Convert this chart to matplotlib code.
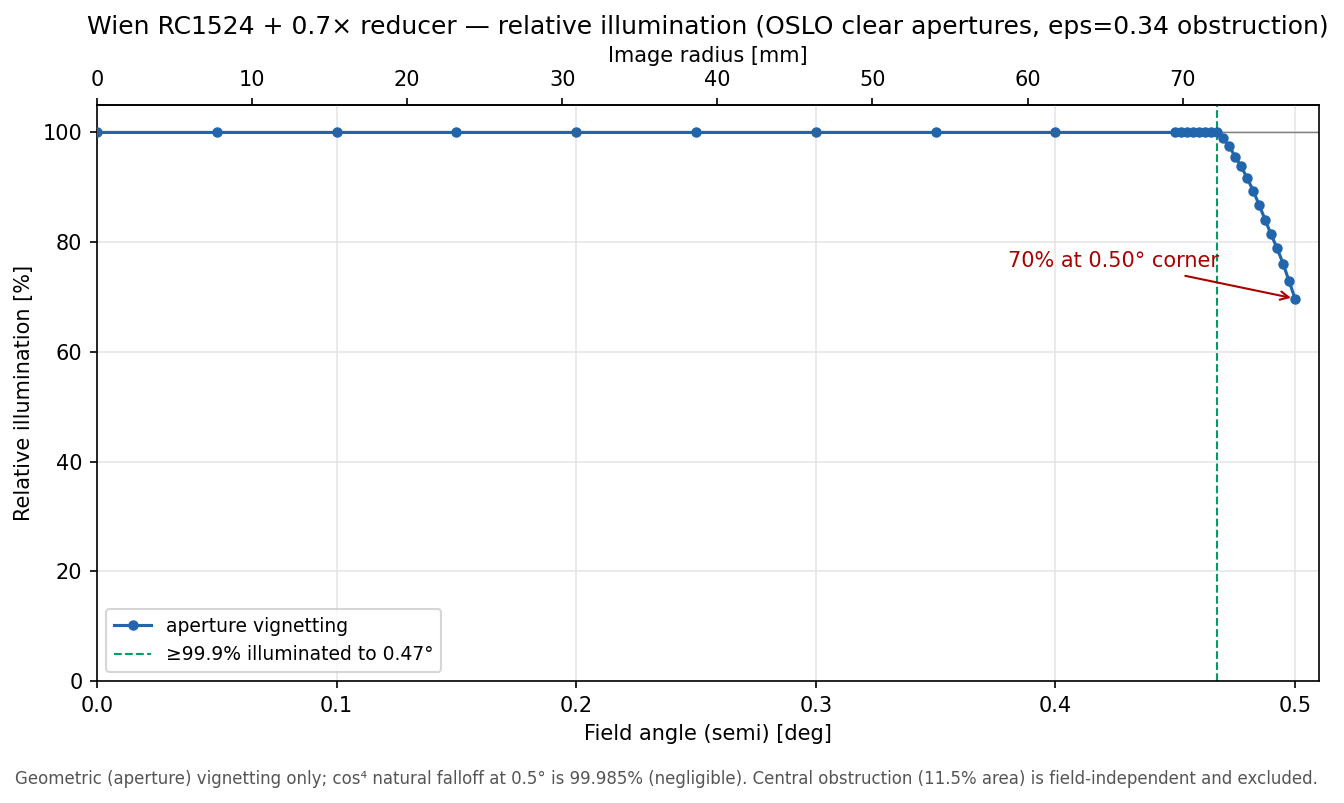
import matplotlib
matplotlib.use("Agg")
import matplotlib.pyplot as plt
import numpy as np

field_deg = [0.0, 0.05, 0.10, 0.15, 0.20, 0.25, 0.30, 0.35, 0.40, 0.45,
             0.4525, 0.455, 0.4575, 0.46, 0.4625, 0.465, 0.4675,
             0.47, 0.4725, 0.475, 0.4775, 0.48, 0.4825, 0.485, 0.4875,
             0.49, 0.4925, 0.495, 0.4975, 0.50]
rel_illum = [100, 100, 100, 100, 100, 100, 100, 100, 100, 100,
             100, 100, 100, 100, 100, 100, 100,
             98.9, 97.5, 95.6, 93.8, 91.7, 89.4, 86.8, 84.1,
             81.4, 78.9, 76.1, 72.9, 69.7]
radius_ticks_mm = [0, 10, 20, 30, 40, 50, 60, 70]
mm_per_deg = 154.5
full_illum_deg = 0.4675

DPI = 150
fig = plt.figure(figsize=(1344/DPI, 803/DPI), dpi=DPI)
ax = fig.add_axes([97/1344, 1 - 681/803, (1319-97)/1344, (681-105)/803])

ax.axhline(100, color="gray", lw=0.7, zorder=2)
ax.plot(field_deg, rel_illum, "-o", color="#2166ac", lw=1.5, ms=4,
        label="aperture vignetting", zorder=3)
ax.axvline(full_illum_deg, color="#009e60", ls="--", lw=1.0,
           label="≥99.9% illuminated to 0.47°", zorder=2.5)

ax.annotate("70% at 0.50° corner", xy=(field_deg[-1], rel_illum[-1]),
            xytext=(0.38, 75.5), color="#aa0000", fontsize=10,
            arrowprops=dict(arrowstyle="->", color="#aa0000", lw=1.0))

ax.set_xlim(0, 0.51)
ax.set_ylim(0, 105)
ax.set_xlabel("Field angle (semi) [deg]", fontsize=10)
ax.set_ylabel("Relative illumination [%]", fontsize=10)
ax.grid(True, color="#e0e0e0", lw=0.8, alpha=0.8)
ax.tick_params(labelsize=10)

sec = ax.secondary_xaxis("top", functions=(lambda d: d * mm_per_deg,
                                           lambda r: r / mm_per_deg))
sec.set_xticks(radius_ticks_mm)
sec.set_xlabel("Image radius [mm]", fontsize=10)
sec.tick_params(labelsize=10)

ax.set_title("Wien RC1524 + 0.7× reducer — relative illumination (OSLO clear apertures, eps=0.34 obstruction)",
             fontsize=12, pad=6)
ax.legend(loc="lower left", fontsize=9)

fig.text(666.5/1344, 1 - 779/803,
         "Geometric (aperture) vignetting only; cos⁴ natural falloff at 0.5° is 99.985% (negligible). "
         "Central obstruction (11.5% area) is field-independent and excluded.",
         ha="center", va="center", fontsize=8, color="#555555")

fig.savefig("out.png", dpi=DPI)
